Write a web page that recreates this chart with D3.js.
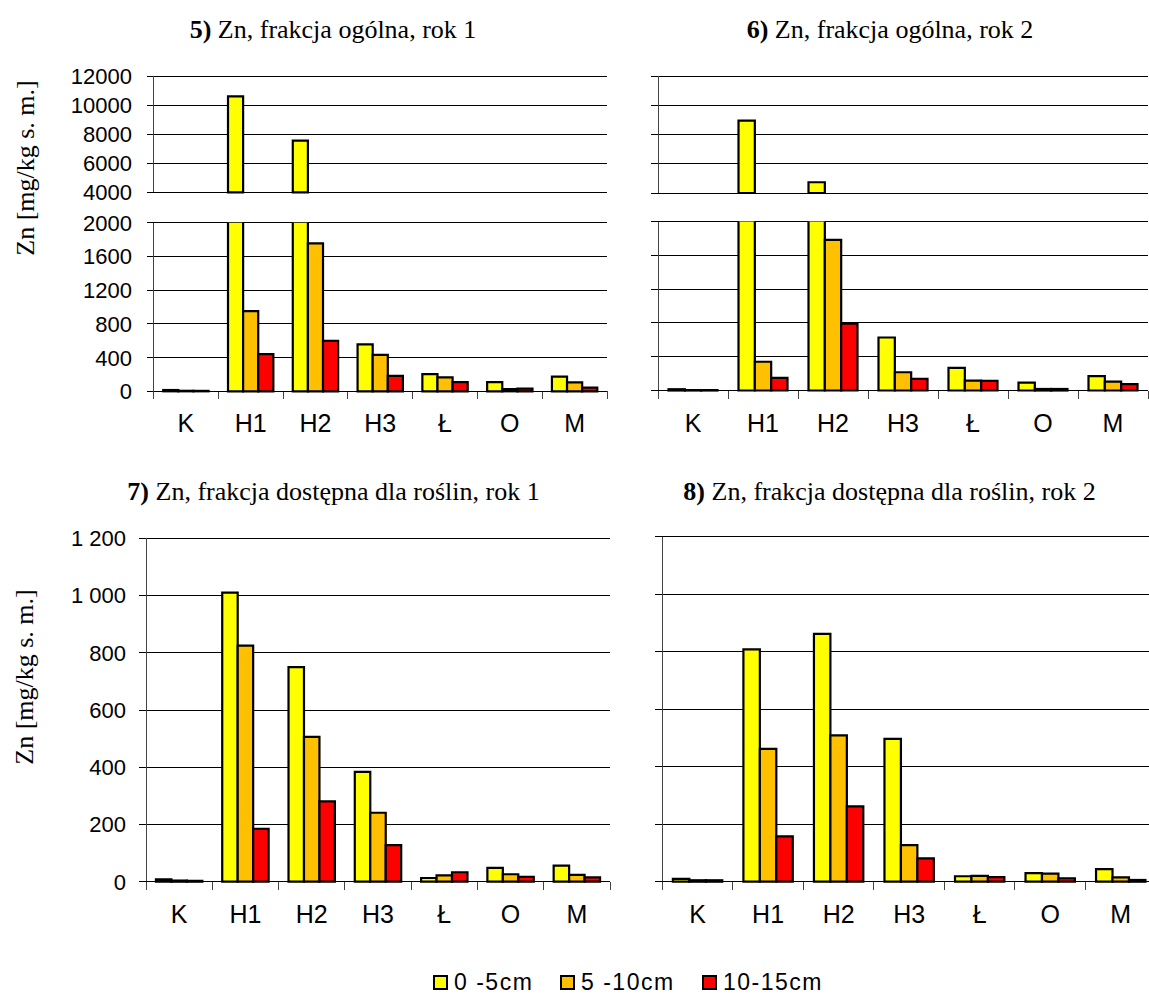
<!DOCTYPE html>
<html>
<head>
<meta charset="utf-8">
<script src="https://cdnjs.cloudflare.com/ajax/libs/d3/7.8.5/d3.min.js"></script>
<style>
    body { margin: 0; background: #fff; }
    svg { display: block; }
    .chart-title { font-family: "Liberation Serif", "Times New Roman", serif; font-size: 26px; fill: #000; }
    .y-title { font-family: "Liberation Serif", "Times New Roman", serif; font-size: 26px; fill: #000; }
    .tick-label { font-family: "Liberation Sans", Arial, sans-serif; font-size: 22px; fill: #000; }
    .site-label { font-family: "Liberation Sans", Arial, sans-serif; font-size: 25px; fill: #000; }
    .legend-label { font-family: "Liberation Sans", Arial, sans-serif; font-size: 23px; letter-spacing: 1.5px; fill: #000; }
</style>
</head>
<body>
<div id="chart-area"></div>
<script>

// sampling sites and depth layers
let sites = ["K", "H1", "H2", "H3", "Ł", "O", "M"];
let depths = ["0 -5cm", "5 -10cm", "10-15cm"];
let depthColors = ["#ffff00", "#ffc000", "#ff0000"];

// 5) Zn, total fraction, year 1  (one row per depth)
let totalYear1 = [
    [15, 10600, 7550, 557, 204, 110, 173],
    [6, 950, 1755, 431, 165, 26, 106],
    [5, 440, 598, 184, 110, 32, 43]
];

// 6) Zn, total fraction, year 2
let totalYear2 = [
    [15, 8950, 4735, 627, 267, 94, 169],
    [5, 340, 1782, 216, 118, 18, 106],
    [5, 150, 790, 137, 114, 18, 75]
];

// 7) Zn, plant available fraction, year 1
let availableYear1 = [
    [8, 1010, 750, 384, 13, 48, 56],
    [4, 825, 506, 241, 22, 26, 24],
    [3, 185, 281, 128, 33, 17, 15]
];

// 8) Zn, plant available fraction, year 2
let availableYear2 = [
    [10, 808, 862, 497, 19, 30, 44],
    [5, 462, 509, 127, 20, 28, 15],
    [5, 158, 262, 81, 16, 12, 6]
];

// axis ticks
let totalTicksLow = [0, 400, 800, 1200, 1600, 2000];
let totalTicksHigh = [4000, 6000, 8000, 10000, 12000];
let availableTicks = [0, 200, 400, 600, 800, 1000, 1200];

let svg = d3.select("#chart-area").append("svg")
    .attr("width", 1149)
    .attr("height", 996);


class ZnBarVis {

    constructor(svg, config, values) {
        this.svg = svg;
        this.config = config;
        this.values = values;

        this.initVis();
    }

    initVis() {
        let vis = this;
        let c = vis.config;

        vis.g = vis.svg.append("g").attr("class", "zn-chart");

        vis.x = d3.scaleBand()
            .domain(sites)
            .range([c.left, c.right])
            .padding(0);

        let bw = vis.x.bandwidth();
        vis.xDepth = d3.scaleBand()
            .domain(depths)
            .range([bw * 0.15, bw * 0.85])
            .padding(0);

        // one linear scale per axis segment (top charts have a broken axis)
        vis.segments = c.segments.map(s => ({
            y: d3.scaleLinear().domain(s.domain).range(s.range),
            domain: s.domain,
            ticks: s.ticks
        }));

        vis.y0 = vis.segments[0].y(0);

        vis.updateVis();
    }

    updateVis() {
        let vis = this;
        let c = vis.config;
        let fmt = c.format;

        // title
        let title = vis.g.append("text")
            .attr("class", "chart-title")
            .attr("x", c.titleX)
            .attr("y", c.titleY)
            .attr("text-anchor", "middle");
        title.append("tspan").attr("font-weight", "bold").text(c.number);
        title.append("tspan").text(c.title);

        if (c.yTitle) {
            vis.g.append("text")
                .attr("class", "y-title")
                .attr("transform", `translate(${c.yTitle[0]},${c.yTitle[1]}) rotate(-90)`)
                .attr("text-anchor", "middle")
                .attr("dy", "0.35em")
                .text("Zn [mg/kg s. m.]");
        }

        // gridlines, axis line and tick labels for every segment
        vis.segments.forEach((seg, i) => {
            let sg = vis.g.append("g").attr("class", "segment");

            sg.selectAll("line.grid")
                .data(seg.ticks)
                .enter().append("line")
                .attr("class", "grid")
                .attr("x1", c.left - 7)
                .attr("x2", c.right)
                .attr("y1", d => seg.y(d))
                .attr("y2", d => seg.y(d))
                .attr("stroke", "#000")
                .attr("stroke-width", 1)
                .attr("shape-rendering", "crispEdges");

            let yr = seg.y.range();
            sg.append("line")
                .attr("x1", c.left).attr("x2", c.left)
                .attr("y1", yr[1])
                .attr("y2", i === 0 ? yr[0] + 8 : yr[0])
                .attr("stroke", "#444")
                .attr("shape-rendering", "crispEdges");

            if (c.showLabels) {
                sg.selectAll("text.tick-label")
                    .data(seg.ticks)
                    .enter().append("text")
                    .attr("class", "tick-label")
                    .attr("x", c.labelRight)
                    .attr("y", d => seg.y(d))
                    .attr("dy", "0.36em")
                    .attr("text-anchor", "end")
                    .text(d => fmt(d));
            }
        });

        // bars
        let bw = vis.xDepth.bandwidth();
        let barData = [];
        vis.values.forEach((row, di) => {
            row.forEach((v, si) => {
                barData.push({site: sites[si], depth: depths[di], color: depthColors[di], value: v});
            });
        });

        vis.segments.forEach(seg => {
            let lo = seg.domain[0], hi = seg.domain[1];
            let parts = barData.filter(d => d.value > lo);

            vis.g.append("g").attr("class", "bars")
                .selectAll("path")
                .data(parts)
                .enter().append("path")
                .attr("d", d => {
                    let x0 = vis.x(d.site) + vis.xDepth(d.depth);
                    let x1 = x0 + bw;
                    let yb = seg.y(lo);
                    let yt = seg.y(Math.min(d.value, hi));
                    if (d.value > hi) {
                        // cut by the axis break: leave the top open
                        return `M${x0},${yt}L${x0},${yb}L${x1},${yb}L${x1},${yt}`;
                    }
                    return `M${x0},${yb}L${x0},${yt}L${x1},${yt}L${x1},${yb}Z`;
                })
                .attr("fill", d => d.color)
                .attr("stroke", "#000")
                .attr("stroke-width", 2.2)
                .attr("stroke-linejoin", "miter");
        });

        // category ticks and labels
        let edges = d3.range(sites.length + 1).map(i => c.left + i * vis.x.bandwidth());
        vis.g.selectAll("line.x-tick")
            .data(edges)
            .enter().append("line")
            .attr("class", "x-tick")
            .attr("x1", d => d).attr("x2", d => d)
            .attr("y1", vis.y0).attr("y2", vis.y0 + 8)
            .attr("stroke", "#444")
            .attr("shape-rendering", "crispEdges");

        vis.g.append("line")
            .attr("x1", c.left).attr("x2", c.right)
            .attr("y1", vis.y0).attr("y2", vis.y0)
            .attr("stroke", "#000")
            .attr("shape-rendering", "crispEdges");

        vis.g.selectAll("text.site-label")
            .data(sites)
            .enter().append("text")
            .attr("class", "site-label")
            .attr("x", d => vis.x(d) + vis.x.bandwidth() / 2)
            .attr("y", vis.y0 + 41)
            .attr("text-anchor", "middle")
            .text(d => d);
    }
}

let plainFormat = d => String(d);
let spacedFormat = d => d3.format(",")(d).replace(/,/g, " ");

new ZnBarVis(svg, {
    number: "5)", title: " Zn, frakcja ogólna, rok 1",
    titleX: 333, titleY: 38, yTitle: [25, 168],
    left: 153.5, right: 607, showLabels: true, labelRight: 132, format: plainFormat,
    segments: [
        {domain: [0, 2000], range: [391.3, 222.7], ticks: totalTicksLow},
        {domain: [4000, 12000], range: [192.3, 76], ticks: totalTicksHigh}
    ]
}, totalYear1);

new ZnBarVis(svg, {
    number: "6)", title: " Zn, frakcja ogólna, rok 2",
    titleX: 890, titleY: 38, yTitle: null,
    left: 658, right: 1148, showLabels: false, format: plainFormat,
    segments: [
        {domain: [0, 2000], range: [390.5, 221.5], ticks: totalTicksLow},
        {domain: [4000, 12000], range: [193, 76], ticks: totalTicksHigh}
    ]
}, totalYear2);

new ZnBarVis(svg, {
    number: "7)", title: " Zn, frakcja dostępna dla roślin, rok 1",
    titleX: 333.5, titleY: 500, yTitle: [24, 677],
    left: 146, right: 610, showLabels: true, labelRight: 126, format: spacedFormat,
    segments: [
        {domain: [0, 1200], range: [881.7, 538.3], ticks: availableTicks}
    ]
}, availableYear1);

new ZnBarVis(svg, {
    number: "8)", title: " Zn, frakcja dostępna dla roślin, rok 2",
    titleX: 889.5, titleY: 500, yTitle: null,
    left: 662.3, right: 1156, showLabels: false, format: spacedFormat,
    segments: [
        {domain: [0, 1200], range: [881.7, 536.7], ticks: availableTicks}
    ]
}, availableYear2);

// legend
let legendX = [434, 561, 703];
let legend = svg.append("g").attr("class", "legend");
depths.forEach((d, i) => {
    legend.append("rect")
        .attr("x", legendX[i]).attr("y", 976)
        .attr("width", 13).attr("height", 13)
        .attr("fill", depthColors[i])
        .attr("stroke", "#000")
        .attr("stroke-width", 2);
    legend.append("text")
        .attr("class", "legend-label")
        .attr("x", legendX[i] + 20)
        .attr("y", 990)
        .text(d);
});

</script>
</body>
</html>
